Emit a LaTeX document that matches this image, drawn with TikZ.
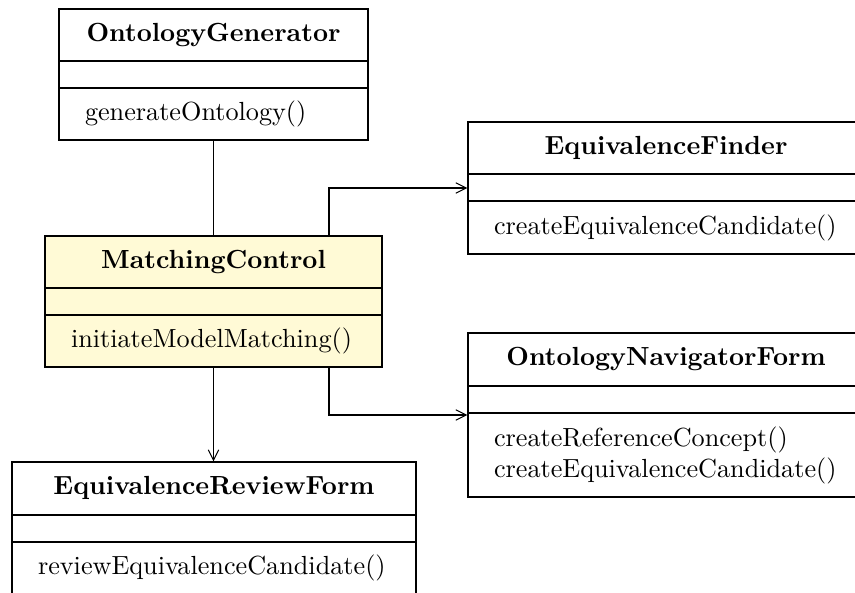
\documentclass[tikz,border=0pt]{standalone}
\usetikzlibrary{fit,calc,arrows.meta}
\definecolor{ctrlfill}{RGB}{255,250,214}
\tikzset{
  classbox/.style={draw, inner sep=0pt, line width=0.4pt},
  classtitle/.style={font=\bfseries, inner sep=0pt},
  classops/.style={anchor=west, inner sep=0pt, align=left},
  divider/.style={line width=0.4pt},
  link/.style={line width=0.4pt},
  navarrow/.style={-{Straight Barb[length=4pt,width=4pt]}},
}
% UML class: [options]{name}{top-left}{bottom-right}{divider 1 y}{divider 2 y}{title}{operations}
\newcommand\umlclass[8][]{%
  \node[classbox,#1,fit={(#3) (#4)}] (#2) {};
  \draw[divider] (#2.west |- 0,#5) -- (#2.east |- 0,#5);
  \draw[divider] (#2.west |- 0,#6) -- (#2.east |- 0,#6);
  \node[classtitle] (#2-title) at ($(#2.north)!0.5!(#2.north |- 0,#5)$) {#7};
  \node[classops] (#2-ops) at ($(#2.west |- 0,#6)!0.5!(#2.south west) + (26,0)$) {#8};
}
\begin{document}
\begin{tikzpicture}[x=0.3817pt,y=-0.3817pt]
\useasboundingbox (0,0) rectangle (855,592);

\umlclass{og}{59,9}{368,140}{61}{88}{OntologyGenerator}{generateOntology()}
\umlclass[fill=ctrlfill]{mc}{45,236}{382,367}{288}{315}{MatchingControl}{initiateModelMatching()}
\umlclass{ef}{468,122}{864,254}{174}{201}{EquivalenceFinder}{createEquivalenceCandidate()}
\umlclass{onf}{468,333}{864,497}{386}{413}{OntologyNavigatorForm}{createReferenceConcept()\\createEquivalenceCandidate()}
\umlclass{erf}{12,462}{416,594}{515}{542}{EquivalenceReviewForm}{reviewEquivalenceCandidate()}

\draw[link] (og.south) -- (mc.north);
\draw[link,navarrow] (mc.south) -- (mc.south |- erf.north);
\draw[link,navarrow] (mc.north -| 329,0) |- (ef.west |- 0,188);
\draw[link,navarrow] (mc.south -| 329,0) |- (onf.west |- 0,415);
\end{tikzpicture}
\end{document}
